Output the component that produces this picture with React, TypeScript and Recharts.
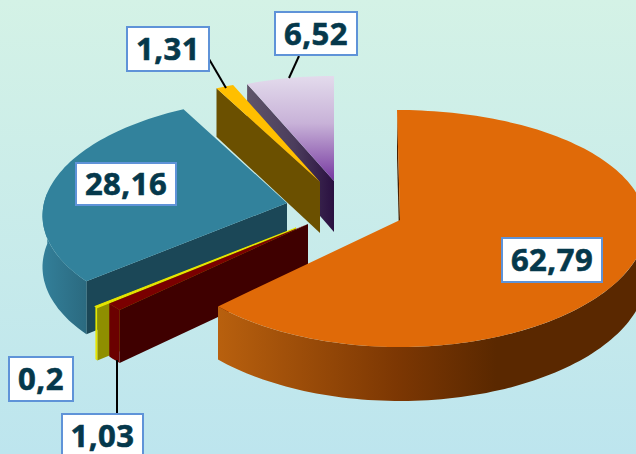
import { PieChart, Pie } from 'recharts'

// clockwise from the top the pie reads 62,79 first; listed the other way round
// so that the back slices get painted first
const sliceValues = [6.52, 1.31, 28.16, 0.2, 1.03, 62.79]

const topColors = ['url(#lilacTop)', '#ffbf00', '#32829c', '#e6e600', '#7a0000', '#e06a08']
const startWallColors = ['url(#lilacWall)', '#6b5000', '#1b4757', '#8f8f00', '#3f0000', '#4a2000']
const outerWallColors = ['#5c5068', '#6b5000', 'url(#tealOuter)', '#e6e600', '#6b0000', 'url(#orangeOuter)']
const outlineWidth = [0, 0, 0, 1.2, 0, 0]

// how far each slice is pulled out of the pie centre
const explodeX = [34, 20, -13, -4, 8, 100]
const explodeY = [-29, -28, -7, 18, 14, 10]
const sliceLean = [0, 0, 0, 0, 0, 3]

// disc shape per slice: sizes and how strongly the back of the disc shrinks
const sliceRx = [243, 243, 243, 243, 243, 246]
const sliceRxShrink = [27, 27, 27, 27, 27, 10]
const sliceRy = [116, 116, 116, 116, 116, 118.5]
const sliceRyShrink = [11, 11, 11, 11, 11, 8.5]

const boxLeft = [275, 127, 76, 9, 62, 502]
const boxTop = [12, 27, 163, 357, 414, 238]
const boxWidth = [82, 82, 100, 64, 81, 100]
const boxHeight = [43, 44, 42, 44, 44, 44]

const leaders: Record<number, number[]> = {
  0: [299, 56, 289, 78],
  1: [209, 59, 226, 88],
  4: [117, 360, 117, 414],
}

const chartData = sliceValues.map((value, slot) => ({ value, slot }))

const CX = 300
const CY = 210
const RADIUS = 243
const DEPTH = 51

// flat disc seen in perspective: the back of the disc is smaller than the front
const project = (deg: number, slot: number, depth = 0) => {
  const rad = (deg * Math.PI) / 180
  const s = Math.sin(rad)
  const c = Math.cos(rad)
  const rx = sliceRx[slot] - sliceRxShrink[slot] * c
  const ry = sliceRy[slot] - sliceRyShrink[slot] * c
  const x = CX + explodeX[slot] + rx * s - sliceLean[slot] * Math.max(c, 0)
  const y = CY + explodeY[slot] - ry * c
  return [x, y + depth * (DEPTH - 3 * c)]
}

const toPath = (points: number[][]) =>
  'M' + points.map(p => `${p[0].toFixed(1)},${p[1].toFixed(1)}`).join('L') + 'Z'

const arcPoints = (from: number, to: number, slot: number, depth = 0) => {
  const points: number[][] = []
  const steps = Math.max(1, Math.ceil((to - from) / 1.5))
  for (let i = 0; i <= steps; i++) {
    points.push(project(from + ((to - from) * i) / steps, slot, depth))
  }
  return points
}

const Slice3D = (props: any) => {
  const slot = props.slot ?? props.payload?.slot
  // recharts hands over counter-clockwise angles, turn them into clockwise from top
  const from = 90 - props.endAngle + 360
  const to = 90 - props.startAngle + 360
  const apexX = CX + explodeX[slot]
  const apexY = CY + explodeY[slot]

  const wallFrom = Math.max(from, 90)
  const wallTo = Math.min(to, 275)
  const startEdge = project(from, slot)
  const startEdgeLow = project(from, slot, 1)

  return (
    <g>
      <path
        d={toPath([[apexX, apexY], startEdge, startEdgeLow, [apexX, apexY + DEPTH]])}
        fill={startWallColors[slot]}
      />
      {wallTo > wallFrom && (
        <path
          d={toPath([
            ...arcPoints(wallFrom, wallTo, slot),
            ...arcPoints(wallFrom, wallTo, slot, 1).reverse(),
          ])}
          fill={outerWallColors[slot]}
        />
      )}
      <path
        d={toPath([[apexX, apexY], ...arcPoints(from, to, slot)])}
        fill={topColors[slot]}
        stroke={topColors[slot]}
        strokeWidth={outlineWidth[slot]}
      />
    </g>
  )
}

const BoxLabel = (props: any) => {
  const slot = props.slot ?? props.payload?.slot
  const line = leaders[slot]
  const left = boxLeft[slot]
  const top = boxTop[slot]
  return (
    <g>
      {line && <line x1={line[0]} y1={line[1]} x2={line[2]} y2={line[3]} stroke="#000" strokeWidth={2} />}
      <rect
        x={left}
        y={top}
        width={boxWidth[slot]}
        height={boxHeight[slot]}
        fill="#fff"
        stroke="#5f93d8"
        strokeWidth={2}
      />
      <text
        x={left + boxWidth[slot] / 2}
        y={top + boxHeight[slot] / 2 + 11}
        textAnchor="middle"
        fontFamily="'Open Sans', sans-serif"
        fontWeight={700}
        fontSize={31}
        letterSpacing={0.5}
        fill="#05384b"
        stroke="#05384b"
        strokeWidth={0.6}
      >
        {String(sliceValues[slot]).replace('.', ',')}
      </text>
    </g>
  )
}

export default function App() {
  return (
    <div
      style={{
        position: 'absolute',
        left: 0,
        top: 0,
        width: 636,
        height: 454,
        overflow: 'hidden',
        background: 'linear-gradient(180deg, #d4f2e6 0%, #bde5ee 100%)',
      }}
    >
      <PieChart width={636} height={454} margin={{ top: 0, right: 0, bottom: 0, left: 0 }}>
        <defs>
          <linearGradient id="lilacTop" x1="0" y1="0" x2="0" y2="1">
            <stop offset="0" stopColor="#e3dbec" />
            <stop offset="0.45" stopColor="#c8b2d8" />
            <stop offset="1" stopColor="#7638a0" />
          </linearGradient>
          <linearGradient id="lilacWall" x1="0" y1="0" x2="1" y2="0">
            <stop offset="0" stopColor="#5f5569" />
            <stop offset="0.55" stopColor="#4b3c5c" />
            <stop offset="1" stopColor="#2a1040" />
          </linearGradient>
          <linearGradient id="tealOuter" x1="0" y1="0" x2="1" y2="0">
            <stop offset="0" stopColor="#337f99" />
            <stop offset="1" stopColor="#2b6a80" />
          </linearGradient>
          <linearGradient id="orangeOuter" x1="0" y1="0" x2="1" y2="0">
            <stop offset="0" stopColor="#b8600e" />
            <stop offset="0.42" stopColor="#7c3703" />
            <stop offset="0.65" stopColor="#5a2800" />
            <stop offset="1" stopColor="#5a2800" />
          </linearGradient>
        </defs>
        <Pie
          data={chartData}
          dataKey="value"
          cx={CX}
          cy={CY}
          outerRadius={RADIUS}
          startAngle={90}
          endAngle={450}
          isAnimationActive={false}
          shape={Slice3D}
          label={BoxLabel}
          labelLine={false}
        />
      </PieChart>
    </div>
  )
}
